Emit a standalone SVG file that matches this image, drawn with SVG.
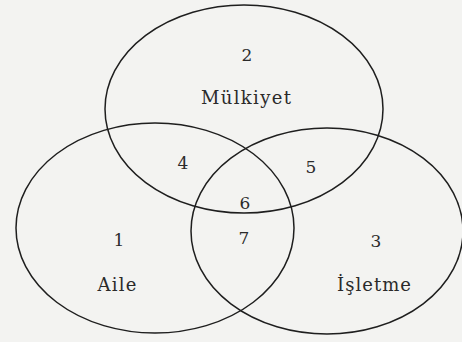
<svg xmlns="http://www.w3.org/2000/svg" width="462" height="342" viewBox="0 0 462 342">
<style>
.c{fill:none;stroke:#1e1e1e;stroke-width:1.5}
.n{font-family:"DejaVu Serif","Liberation Serif",serif;font-size:17px;fill:#2a2a2a;text-anchor:middle}
.l{font-family:"DejaVu Serif","Liberation Serif",serif;font-size:18px;fill:#2a2a2a;text-anchor:middle}
</style>
<rect width="462" height="342" fill="#f3f3f1"/>
<g id="mulkiyet">
<ellipse class="c" cx="244" cy="109" rx="139" ry="104"/>
<text class="n" x="247" y="61">2</text>
<text class="l" x="246" y="104" textLength="90" lengthAdjust="spacing">Mülkiyet</text>
</g>
<g id="aile">
<ellipse class="c" cx="155" cy="228" rx="139" ry="105"/>
<text class="n" x="119" y="246">1</text>
<text class="l" x="117" y="291" textLength="39" lengthAdjust="spacing">Aile</text>
</g>
<g id="isletme">
<ellipse class="c" cx="327" cy="231" rx="136" ry="103"/>
<text class="n" x="376" y="247">3</text>
<text class="l" x="374" y="291" textLength="74" lengthAdjust="spacing">İşletme</text>
</g>
<g id="regions">
<text class="n" x="183" y="169">4</text>
<text class="n" x="311" y="173">5</text>
<text class="n" x="245" y="209">6</text>
<text class="n" x="244" y="244">7</text>
</g>
</svg>
